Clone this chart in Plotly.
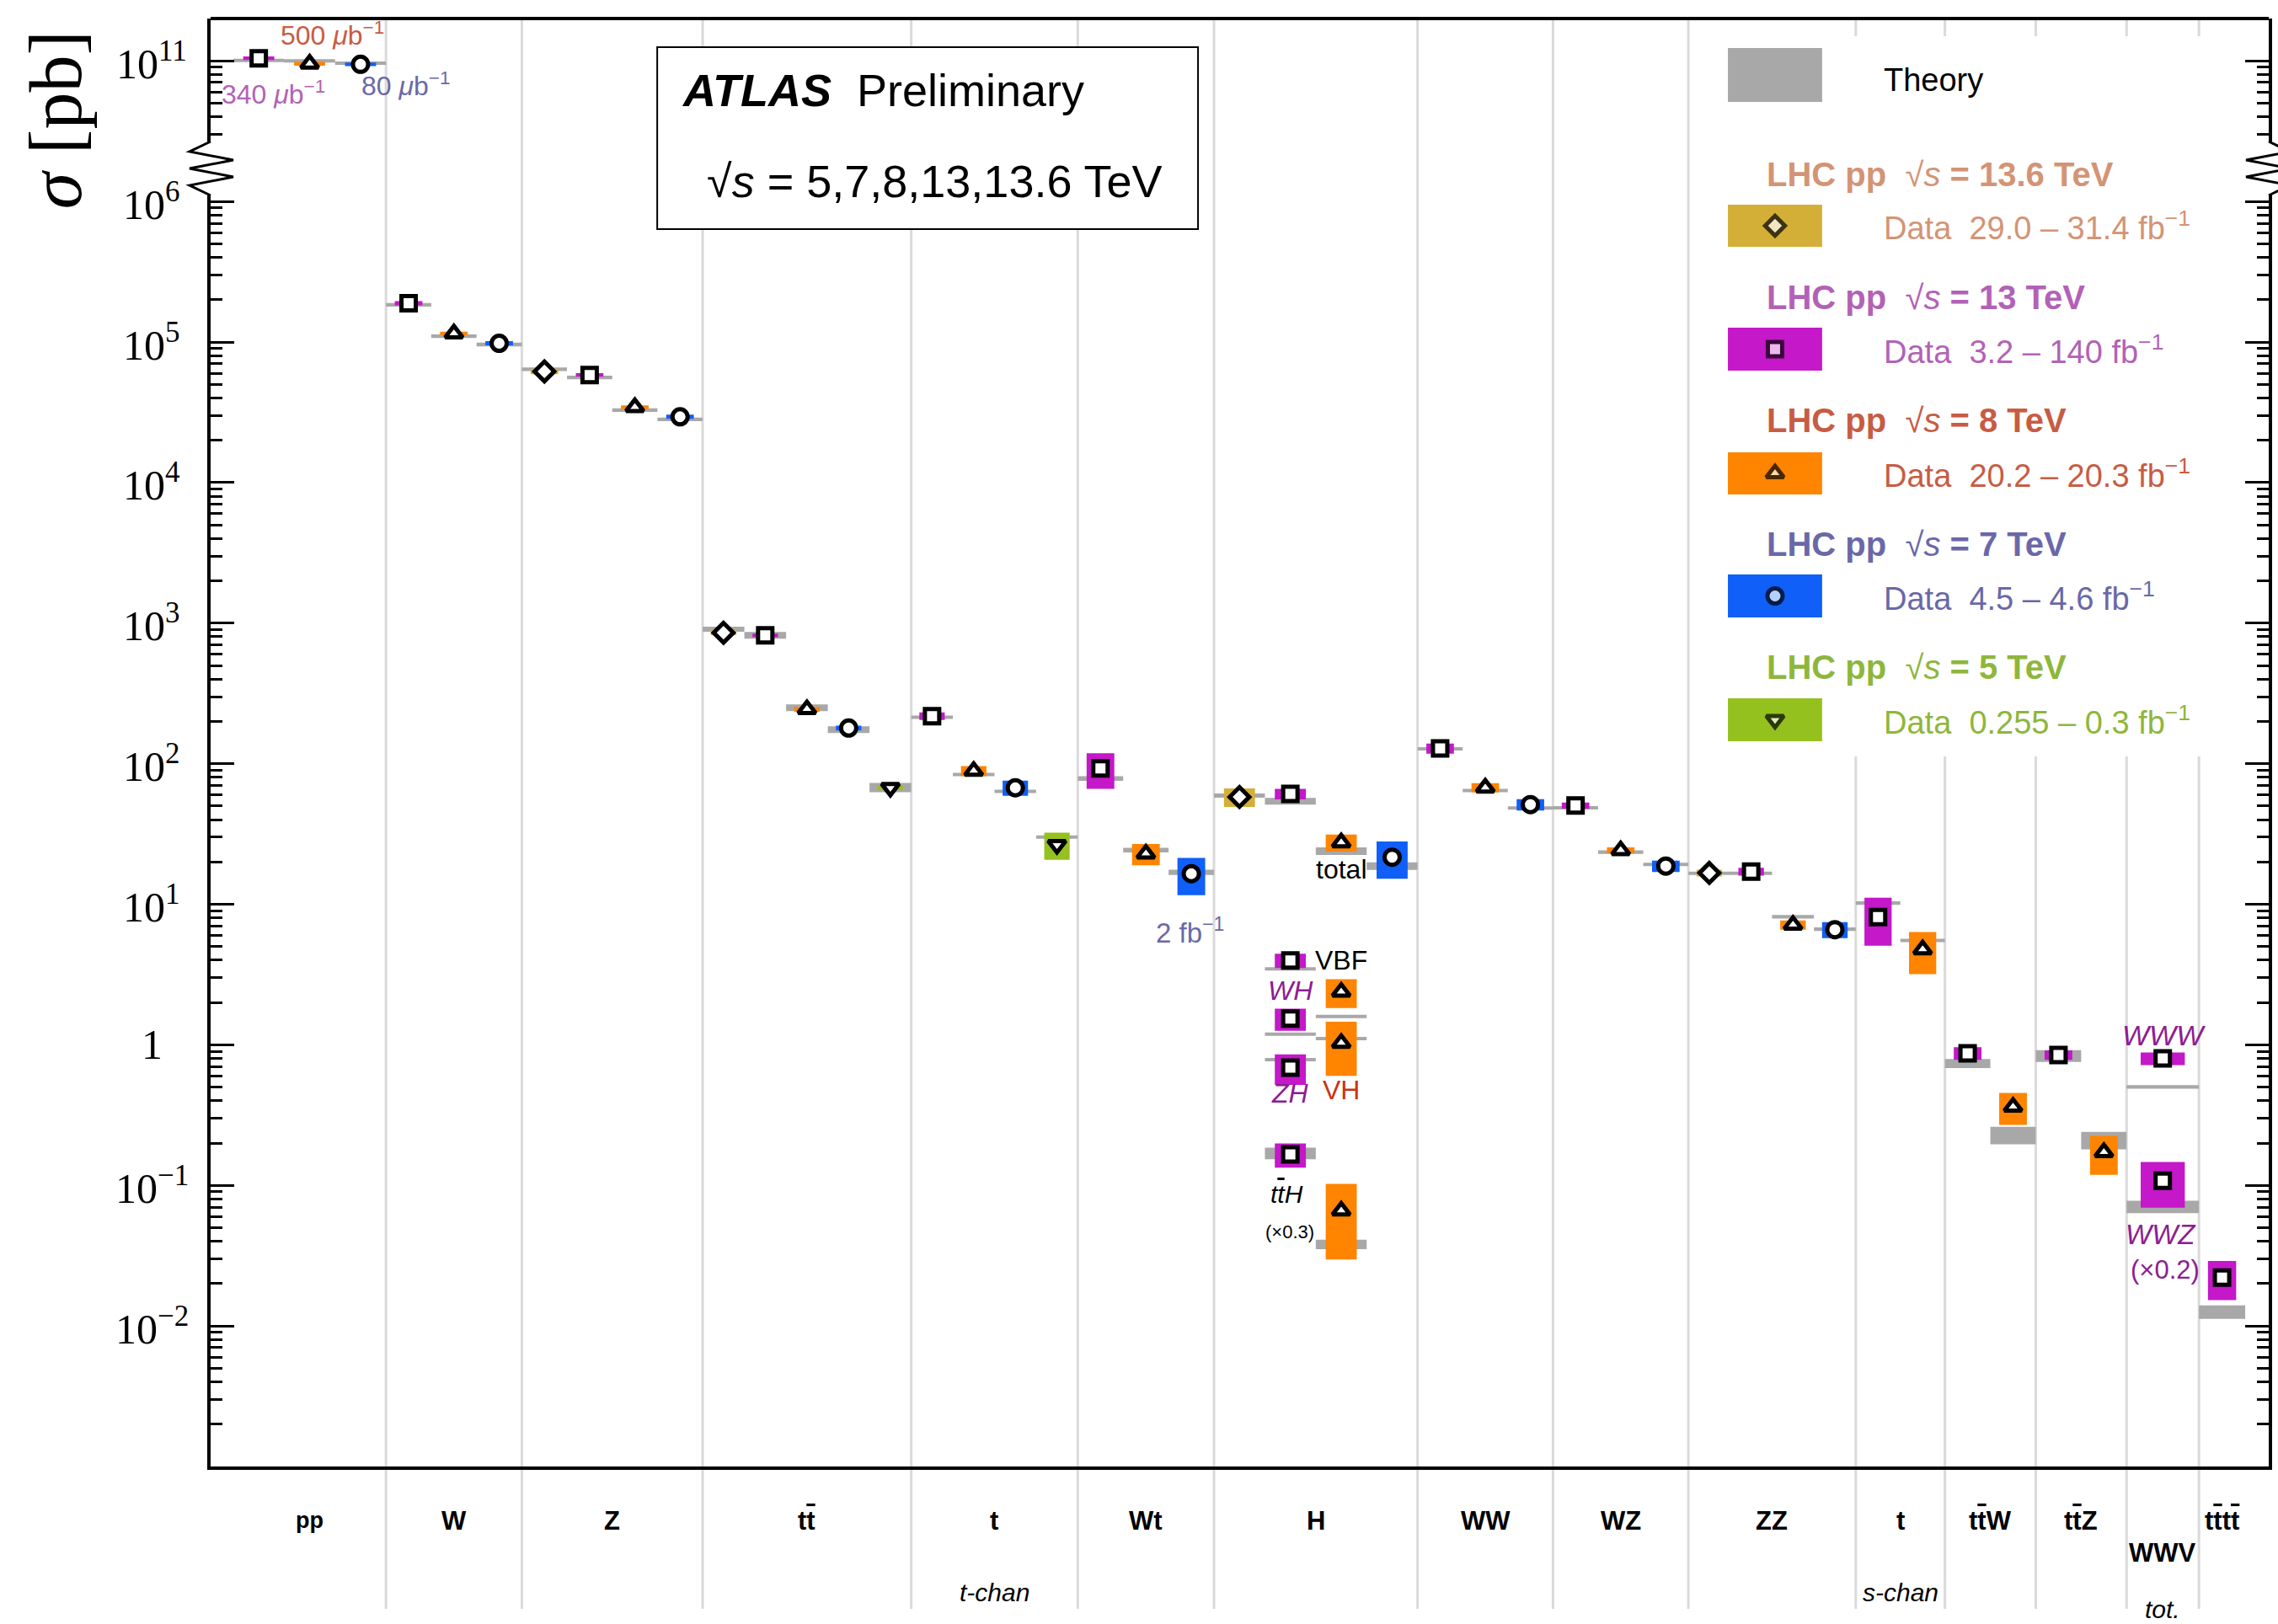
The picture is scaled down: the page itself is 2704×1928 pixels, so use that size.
import numpy as np
import plotly.graph_objects as go

SANS = "Liberation Sans, Arial, Helvetica, sans-serif"
SERIF = "Liberation Serif, Times New Roman, serif"
TB = '<span style="text-decoration:overline">t</span>'   # anti-top quark

# ---------------- process groups along the x axis (axis units) ----------------
GROUP_LABELS = ["pp", "W", "Z", "t" + TB, "t", "Wt", "H", "WW", "WZ", "ZZ", "t",
                "t" + TB + "W", "t" + TB + "Z", "WWV", "t" + TB + "t" + TB]
GROUP_SUBLABELS = ["", "", "", "", "t-chan", "", "", "", "", "", "s-chan", "", "", "tot.", ""]
GROUP_EDGES = [2.7, 20.85, 37.0, 58.5, 83.3, 103.1, 119.3, 143.5, 159.6,
               175.7, 195.6, 206.2, 217.0, 227.8, 236.4, 241.9]
GROUP_SLOTS = [3, 3, 4, 5, 4, 3, 4, 3, 3, 4, 2, 2, 2, 1, 1]
X_RANGE = [0, 244.7]

# ---------------- centre-of-mass energies ----------------
ENERGIES = ["13.6", "13", "8", "7", "5"]
ENERGY_FILL = {"13.6": "#D4AF37", "13": "#C418C9", "8": "#FF8400", "7": "#0F5FF8", "5": "#95C11F"}
ENERGY_TEXT = {"13.6": "#D39476", "13": "#B262B6", "8": "#C75C44", "7": "#6A68A8", "5": "#8EB63C"}
ENERGY_SYMBOL = {"13.6": "diamond", "13": "square", "8": "triangle-up", "7": "circle", "5": "triangle-down"}
ENERGY_SIZE = {"13.6": 18, "13": 17, "8": 18, "7": 18, "5": 18}
ENERGY_LUMI = {"13.6": "29.0 \u2013 31.4", "13": "3.2 \u2013 140", "8": "20.2 \u2013 20.3",
               "7": "4.5 \u2013 4.6", "5": "0.255 \u2013 0.3"}
THEORY_COLOR = "#A8A8A8"
MARKER_EDGE = 5

# ---------------- measurements [pb] ----------------
MEAS_GROUP = [0, 0, 0, 1, 1, 1, 2, 2, 2, 2, 3, 3, 3, 3, 3, 4, 4, 4, 4, 5, 5, 5,
              6, 6, 6, 6, 6, 6, 6, 6, 6, 6, 6, 7, 7, 7, 8, 8, 8, 9, 9, 9, 9,
              10, 10, 11, 11, 12, 12, 13, 13, 14]
MEAS_SLOT = [0, 1, 2, 0, 1, 2, 0, 1, 2, 3, 0, 1, 2, 3, 4, 0, 1, 2, 3, 0, 1, 2,
             0, 1, 2, 3, 1, 1, 1, 2, 2, 1, 2, 0, 1, 2, 0, 1, 2, 0, 1, 2, 3,
             0, 1, 0, 1, 0, 1, 0, 0, 0]
MEAS_ENERGY = ["13", "8", "7", "13", "8", "7", "13.6", "13", "8", "7",
               "13.6", "13", "8", "7", "5", "13", "8", "7", "5", "13", "8", "7",
               "13.6", "13", "8", "7", "13", "13", "13", "8", "8", "13", "8",
               "13", "8", "7", "13", "8", "7", "13.6", "13", "8", "7",
               "13", "8", "13", "8", "13", "8", "13", "13", "13"]
MEAS_XSEC = [1.04e11, 9.5e10, 9.42e10,
             1.89e5, 1.15e5, 9.8e4,
             6.18e4, 5.83e4, 3.44e4, 2.94e4,
             855, 818, 244, 179.5, 67.5,
             218, 88.8, 67.4, 26.5,
             92.5, 22.9, 16.5,
             58, 61, 27.5, 21.6,
             3.98, 1.535, 0.687,
             2.38, 1.03,
             0.166, 0.066,
             128.5, 67.5, 51.2,
             50.5, 24.2, 18.7,
             16.7, 17.1, 7.13, 6.6,
             8.1, 4.77,
             0.871, 0.362,
             0.847, 0.172,
             0.80, 0.108,
             0.0221]
MEAS_RELERR = [0.03, 0.03, 0.03,
               0.035, 0.03, 0.035,
               0.046, 0.03, 0.03, 0.035,
               0.04, 0.03, 0.04, 0.04, 0.04,
               0.062, 0.083, 0.124, 0.219,
               0.284, 0.172, 0.296,
               0.151, 0.087, 0.138, 0.296,
               0.117, 0.179, 0.245,
               0.232, 0.416,
               0.195, 0.55,
               0.083, 0.076, 0.094,
               0.05, 0.05, 0.092,
               0.055, 0.064, 0.076, 0.13,
               0.375, 0.332,
               0.103, 0.257,
               0.078, 0.308,
               0.103, 0.358,
               0.31]
THEORY_XSEC = [1.005e11, 9.96e10, 9.6e10,
               1.84e5, 1.10e5, 9.6e4,
               6.4e4, 5.6e4, 3.28e4, 2.82e4,
               906, 820, 250, 175, 67.8,
               214, 83.7, 63.5, 30.1,
               78.5, 24.3, 16.9,
               59.3, 54.2, 23.9, 18.7,
               3.47, 1.19, 0.785,
               1.59, 1.107,
               0.1694, 0.0381,
               127.6, 64.4, 48.4,
               48.6, 23.5, 19.2,
               16.6, 16.6, 8.15, 6.65,
               10.2, 5.53,
               0.738, 0.2286,
               0.836, 0.2104,
               0.502, 0.0706,
               0.01262]
THEORY_RELERR = [0.028, 0.028, 0.028,
                 0.03, 0.03, 0.03,
                 0.03, 0.03, 0.03, 0.03,
                 0.04, 0.055, 0.055, 0.055, 0.076,
                 0.028, 0.028, 0.028, 0.028,
                 0.037, 0.039, 0.043,
                 0.035, 0.055, 0.062, 0.062,
                 0.028, 0.028, 0.028,
                 0.028, 0.028,
                 0.093, 0.078,
                 0.028, 0.028, 0.028,
                 0.028, 0.028, 0.028,
                 0.028, 0.028, 0.028, 0.028,
                 0.028, 0.028,
                 0.074, 0.142,
                 0.097, 0.142,
                 0.028, 0.10,
                 0.109]

# ---------------- in-plot labels ----------------
LABEL_TEXT = ["total", "VBF", "<i>WH</i>", "<i>ZH</i>", "VH", "<i>t" + TB + "H</i>", "(\u00d70.3)",
              "<i>WWW</i>", "<i>WWZ</i>", "(\u00d70.2)", "2 fb<sup>\u22121</sup>",
              "500 <i>\u03bc</i>b<sup>\u22121</sup>", "340 <i>\u03bc</i>b<sup>\u22121</sup>",
              "80 <i>\u03bc</i>b<sup>\u22121</sup>"]
LABEL_X = [134.4, 134.4, 128.4, 128.4, 134.4, 128.0, 128.3, 232.2, 231.9, 232.4, 116.4, 14.5, 7.5, 23.2]
LABEL_Y = [17.7, 3.98, 2.43, 0.45, 0.475, 0.0869, 0.0469, 1.17, 0.045, 0.0251, 6.44,
           1.556e11, 5.92e10, 6.79e10]
LABEL_AXIS = ["y"] * 11 + ["y2"] * 3
LABEL_COLOR = ["black", "black", "#8E1C93", "#8E1C93", "#CC3311", "black", "black",
               "#8E1C93", "#8E1C93", "#8E1C93", "#6A68A8", "#C75C44", "#B262B6", "#6A68A8"]
LABEL_SIZE = [32, 32, 32, 32, 32, 30, 22, 34, 33, 31, 33, 32, 32, 32]

# ---------------- canvas geometry ----------------
W, H = 2704, 1928
PL, PT, PW, PH = 250, 22, 2447, 1719


def px(xp):
    return (xp - PL) / PW


def py(yp):
    return (PT + PH - yp) / PH


LOWER_DOMAIN = [0, py(232)]
UPPER_DOMAIN = [py(168), 1]
LOWER_RANGE = [-3, 6.043]
UPPER_RANGE = [10.4245, 11.2998]

BOX_FRAC = 0.61


def slot_geometry(g, s):
    x0, x1 = GROUP_EDGES[g], GROUP_EDGES[g + 1]
    w = (x1 - x0) / GROUP_SLOTS[g]
    left = x0 + s * w
    return left, left + w, left + 0.5 * w


def rect(xa, xb, ya, yb):
    return [xa, xb, xb, xa, xa, None], [ya, ya, yb, yb, ya, None]


fig = go.Figure()


def add_fill(xs, ys, color, yaxis):
    fig.add_trace(go.Scatter(x=xs, y=ys, mode="lines", fill="toself", fillcolor=color,
                             line=dict(width=0, color=color), hoverinfo="skip",
                             showlegend=False, xaxis="x", yaxis=yaxis))


panels = {"y": [i for i, g in enumerate(MEAS_GROUP) if g != 0],
          "y2": [i for i, g in enumerate(MEAS_GROUP) if g == 0]}

for yax, idx in panels.items():
    # theory predictions
    tx, ty = [], []
    for i in idx:
        l, r, c = slot_geometry(MEAS_GROUP[i], MEAS_SLOT[i])
        v, e = THEORY_XSEC[i], THEORY_RELERR[i]
        xs, ys = rect(l, r, v * (1 - e), v * (1 + e))
        tx += xs
        ty += ys
    add_fill(tx, ty, THEORY_COLOR, yax)
    # measurement uncertainty boxes
    for en in ENERGIES:
        bx, by = [], []
        for i in idx:
            if MEAS_ENERGY[i] != en:
                continue
            l, r, c = slot_geometry(MEAS_GROUP[i], MEAS_SLOT[i])
            hw = 0.5 * BOX_FRAC * (r - l)
            v, e = MEAS_XSEC[i], MEAS_RELERR[i]
            xs, ys = rect(c - hw, c + hw, v * (1 - e), v * (1 + e))
            bx += xs
            by += ys
        if bx:
            add_fill(bx, by, ENERGY_FILL[en], yax)
    # central values
    for en in ENERGIES:
        sel = [i for i in idx if MEAS_ENERGY[i] == en]
        if not sel:
            continue
        fig.add_trace(go.Scatter(
            x=[slot_geometry(MEAS_GROUP[i], MEAS_SLOT[i])[2] for i in sel],
            y=[MEAS_XSEC[i] for i in sel], mode="markers", xaxis="x", yaxis=yax,
            marker=dict(symbol=ENERGY_SYMBOL[en], size=ENERGY_SIZE[en], color="white",
                        line=dict(color="black", width=MARKER_EDGE)),
            hoverinfo="skip", showlegend=False))

# ---------------- legend (drawn on an invisible overlay axis = plot area) ----------------
LEG_BOX_X = [px(2054), px(2166)]
LEG_BOX_Y = {"13.6": (243, 293), "13": (389, 440), "8": (537, 587), "7": (682, 733), "5": (829, 880)}
LEG_HEAD_Y = {"13.6": 207, "13": 353, "8": 499, "7": 646, "5": 792}

fig.add_trace(go.Scatter(
    x=[px(2110)] * len(ENERGIES),
    y=[py(0.5 * sum(LEG_BOX_Y[en])) for en in ENERGIES],
    mode="markers", xaxis="x3", yaxis="y3",
    marker=dict(symbol=[ENERGY_SYMBOL[en] for en in ENERGIES],
                size=[ENERGY_SIZE[en] for en in ENERGIES], color="white",
                line=dict(color="black", width=MARKER_EDGE)),
    hoverinfo="skip", showlegend=False))

shapes = []
# group separators
for xe in GROUP_EDGES[1:-1]:
    shapes.append(dict(type="line", xref="x", yref="paper", x0=xe, x1=xe, y0=py(1910), y1=1,
                       line=dict(color="#DADADA", width=3), layer="below"))
# ATLAS label box
shapes.append(dict(type="rect", xref="paper", yref="paper", x0=px(781), x1=px(1424),
                   y0=py(272), y1=py(56), fillcolor="white", line=dict(color="black", width=2),
                   layer="below"))
# legend background
shapes.append(dict(type="rect", xref="paper", yref="paper", x0=px(2012), x1=1,
                   y0=py(898), y1=py(43), fillcolor="white", line=dict(width=0), layer="below"))
shapes.append(dict(type="rect", xref="paper", yref="paper", x0=LEG_BOX_X[0], x1=LEG_BOX_X[1],
                   y0=py(121), y1=py(57), fillcolor=THEORY_COLOR, line=dict(width=0), layer="below"))
for en in ENERGIES:
    y0, y1 = LEG_BOX_Y[en]
    shapes.append(dict(type="rect", xref="paper", yref="paper", x0=LEG_BOX_X[0], x1=LEG_BOX_X[1],
                       y0=py(y1), y1=py(y0), fillcolor=ENERGY_FILL[en], line=dict(width=0),
                       layer="below"))
# top frame line
shapes.append(dict(type="line", xref="paper", yref="paper", x0=0, x1=1, y0=1, y1=1,
                   line=dict(color="black", width=4)))
# axis-break zig-zags on both vertical axes
zy = [168, 180, 190, 200, 210, 220, 232]
for edge, sgn in ((0.0, 1), (1.0, -1)):
    zx = [0, -25, 27, -25, 27, -25, 0]
    pts = [(edge + sgn * dx / PW, py(yy)) for dx, yy in zip(zx, zy)]
    path = "M " + " L ".join(f"{a:.5f},{b:.5f}" for a, b in pts)
    shapes.append(dict(type="path", xref="paper", yref="paper", path=path,
                       line=dict(color="black", width=3)))

annotations = []


def ann(text, x, y, size, color="black", family=SANS, xref="paper", yref="paper",
        xanchor="center", yanchor="middle", angle=0):
    annotations.append(dict(text=text, x=x, y=y, xref=xref, yref=yref, showarrow=False,
                            xanchor=xanchor, yanchor=yanchor, textangle=angle,
                            font=dict(family=family, size=size, color=color)))


# y tick labels, centred left of the axis
for n in range(-2, 7):
    lab = "1" if n == 0 else f"10<sup>{'\u2212' + str(-n) if n < 0 else n}</sup>"
    ann(lab, px(180), n, 50, family=SERIF, yref="y")
ann("10<sup>11</sup>", px(180), 11, 50, family=SERIF, yref="y2")
# y axis title
ann("<i>\u03c3</i> [pb]", px(66), py(142), 88, family=SERIF, angle=-90)

# group labels below the frame
for g, lab in enumerate(GROUP_LABELS):
    xc = 0.5 * (GROUP_EDGES[g] + GROUP_EDGES[g + 1])
    yl = py(1843) if lab == "WWV" else py(1805)
    ann(f"<b>{lab}</b>", xc, yl, 27 if lab == "pp" else 31, xref="x")
    if GROUP_SUBLABELS[g]:
        ys = py(1910) if GROUP_SUBLABELS[g] == "tot." else py(1890)
        ann(f"<i>{GROUP_SUBLABELS[g]}</i>", xc, ys, 30, xref="x")

# labels inside the plot
for t, x, y, ax, c, s in zip(LABEL_TEXT, LABEL_X, LABEL_Y, LABEL_AXIS, LABEL_COLOR, LABEL_SIZE):
    ann(t, x, float(np.log10(y)), s, color=c, xref="x", yref=ax)

# ATLAS box text
ann("<b><i>ATLAS</i></b>\u00a0\u00a0Preliminary", px(808), py(107), 54, xanchor="left")
ann("\u221a<i>s</i> = 5,7,8,13,13.6 TeV", px(838), py(215), 54, xanchor="left")

# legend text
ann("Theory", px(2237), py(95), 38, xanchor="left")
for en in ENERGIES:
    ann(f"<b>LHC pp</b>\u00a0\u00a0\u221a<i>s</i> <b>= {en} TeV</b>", px(2098), py(LEG_HEAD_Y[en]), 40,
        color=ENERGY_TEXT[en], xanchor="left")
    ann(f"Data\u00a0\u00a0{ENERGY_LUMI[en]} fb<sup>\u22121</sup>", px(2237),
        py(0.5 * sum(LEG_BOX_Y[en])), 38, color=ENERGY_TEXT[en], xanchor="left")

# ---------------- axes ----------------
major_lower = [10.0 ** n for n in range(-3, 7)]
minor_lower = [k * 10.0 ** n for n in range(-3, 6) for k in range(2, 10)]
major_upper = [1e11]
minor_upper = [k * 1e10 for k in range(3, 10)] + [2e11]


def log_axis(domain, rng, major, minor):
    return dict(type="log", domain=domain, range=rng, anchor="x",
                showline=True, linecolor="black", linewidth=4, mirror="ticks",
                ticks="inside", ticklen=28, tickwidth=3, tickcolor="black",
                tickmode="array", tickvals=major, showticklabels=False,
                showgrid=False, zeroline=False,
                minor=dict(tickmode="array", tickvals=minor, ticks="inside", ticklen=14,
                           tickwidth=3, tickcolor="black", showgrid=False))


fig.update_layout(
    width=W, height=H,
    margin=dict(l=PL, r=W - PL - PW, t=PT, b=H - PT - PH),
    paper_bgcolor="white", plot_bgcolor="rgba(0,0,0,0)",
    showlegend=False,
    xaxis=dict(range=X_RANGE, domain=[0, 1], anchor="y", showticklabels=False, ticks="",
               showgrid=False, zeroline=False, showline=True, linecolor="black", linewidth=4),
    yaxis=log_axis(LOWER_DOMAIN, LOWER_RANGE, major_lower, minor_lower),
    yaxis2=log_axis(UPPER_DOMAIN, UPPER_RANGE, major_upper, minor_upper),
    xaxis3=dict(domain=[0, 1], range=[0, 1], anchor="y3", visible=False),
    yaxis3=dict(domain=[0, 1], range=[0, 1], anchor="x3", visible=False),
    shapes=shapes,
    annotations=annotations,
)

fig.write_html("out.html")
